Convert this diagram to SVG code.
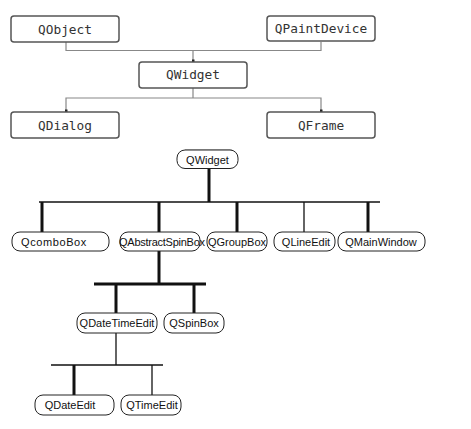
<svg xmlns="http://www.w3.org/2000/svg" width="471" height="429" viewBox="0 0 471 429">
<style>
.tb{fill:#fff;stroke:#555;stroke-width:1.5}
.tt{font-family:"DejaVu Sans Mono","Liberation Mono",monospace;font-size:12.8px;fill:#333;text-anchor:middle}
.tc{fill:none;stroke:#888;stroke-width:1.2}
.dot{fill:#222}
.bb{fill:#fff;stroke:#222;stroke-width:1}
.bt{font-family:"Liberation Sans",Arial,sans-serif;font-size:11px;fill:#111}
.thin{stroke:#111;stroke-width:1.3;fill:none}
.thick{stroke:#111;stroke-width:3;fill:none}
</style>
<rect width="471" height="429" fill="#fff"/>
<g id="connectors">
  <path class="tc" d="M66,42 V50.5 H321 V42 M193,50.5 V62"/>
  <path class="tc" d="M193,88 V98 H66 V112 M193,98 H321 V112"/>
  <rect class="dot" x="192" y="59.5" width="2.5" height="2.5"/>
  <rect class="dot" x="65" y="109.5" width="2.5" height="2.5"/>
  <rect class="dot" x="320" y="109.5" width="2.5" height="2.5"/>
  <line x1="185" y1="149.5" x2="232" y2="149.5" stroke="#ccc" stroke-width="1"/>
  <line class="thick" x1="209" y1="168" x2="209" y2="202"/>
  <line class="thin" x1="39" y1="202" x2="380" y2="202"/>
  <line class="thick" x1="42" y1="202" x2="42" y2="232"/>
  <line class="thick" x1="159" y1="202" x2="159" y2="232"/>
  <line class="thick" x1="237" y1="202" x2="237" y2="232"/>
  <line class="thin" x1="304" y1="202" x2="304" y2="232"/>
  <line class="thick" x1="368" y1="202" x2="368" y2="232"/>
  <line class="thick" x1="159" y1="251" x2="159" y2="284"/>
  <line class="thick" x1="94" y1="284" x2="206" y2="284"/>
  <line class="thick" x1="116" y1="284" x2="116" y2="313"/>
  <line class="thick" x1="194" y1="284" x2="194" y2="313"/>
  <line class="thin" x1="116" y1="333" x2="116" y2="365"/>
  <line class="thin" x1="51" y1="365" x2="163" y2="365"/>
  <line class="thick" x1="74" y1="365" x2="74" y2="395"/>
  <line class="thin" x1="152" y1="365" x2="152" y2="395"/>
</g>
<g id="QObject"><rect class="tb" x="11" y="16" width="108" height="26" rx="3"/><text class="tt" x="65" y="33.5">QObject</text></g>
<g id="QPaintDevice"><rect class="tb" x="267" y="16" width="108" height="25" rx="3"/><text class="tt" x="321" y="33">QPaintDevice</text></g>
<g id="QWidget1"><rect class="tb" x="139" y="62" width="108" height="26" rx="3"/><text class="tt" x="193" y="79">QWidget</text></g>
<g id="QDialog"><rect class="tb" x="11" y="112" width="108" height="26" rx="3"/><text class="tt" x="65" y="129.5">QDialog</text></g>
<g id="QFrame"><rect class="tb" x="267" y="112" width="108" height="26" rx="3"/><text class="tt" x="321" y="129.5">QFrame</text></g>
<g id="QWidget2"><rect class="bb" x="177" y="150" width="61" height="18.5" rx="8"/><text class="bt" x="207.5" y="163.5" text-anchor="middle">QWidget</text></g>
<g id="QcomboBox"><rect class="bb" x="12" y="232" width="97" height="19" rx="8"/><text class="bt" x="21" y="245.5" letter-spacing="0.6">QcomboBox</text></g>
<g id="QAbstractSpinBox"><rect class="bb" x="120" y="232" width="80" height="19" rx="8"/><text class="bt" x="119" y="245.5" textLength="86">QAbstractSpinBox</text></g>
<g id="QGroupBox"><rect class="bb" x="207" y="232" width="60" height="19" rx="8"/><text class="bt" x="237" y="245.5" text-anchor="middle">QGroupBox</text></g>
<g id="QLineEdit"><rect class="bb" x="274" y="232" width="61" height="19" rx="8"/><text class="bt" x="306" y="245.5" text-anchor="middle">QLineEdit</text></g>
<g id="QMainWindow"><rect class="bb" x="338" y="232" width="87" height="19" rx="8"/><text class="bt" x="381" y="245.5" text-anchor="middle">QMainWindow</text></g>
<g id="QDateTimeEdit"><rect class="bb" x="77" y="313" width="80" height="20" rx="8"/><text class="bt" x="117" y="327" text-anchor="middle">QDateTimeEdit</text></g>
<g id="QSpinBox"><rect class="bb" x="164" y="313" width="60" height="20" rx="8"/><text class="bt" x="194" y="327" text-anchor="middle">QSpinBox</text></g>
<g id="QDateEdit"><rect class="bb" x="35" y="395" width="79" height="20" rx="8"/><text class="bt" x="70" y="409" text-anchor="middle">QDateEdit</text></g>
<g id="QTimeEdit"><rect class="bb" x="121" y="395" width="60" height="20" rx="8"/><text class="bt" x="152" y="409" text-anchor="middle">QTimeEdit</text></g>
</svg>
